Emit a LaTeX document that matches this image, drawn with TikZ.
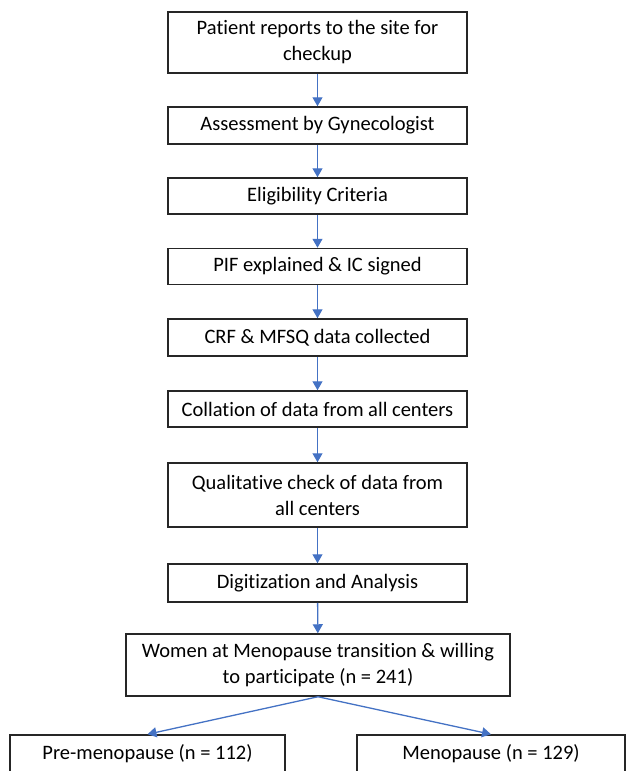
\documentclass[tikz,border=0pt]{standalone}
\usepackage{fontspec}
\setmainfont{Carlito}[Ligatures=NoCommon]
\usetikzlibrary{arrows.meta}
\definecolor{arrowblue}{HTML}{4472C4}
\definecolor{boxline}{HTML}{262626}
\begin{document}
\begin{tikzpicture}[x=1pt,y=-1pt,
  box/.style={draw=boxline, line width=1.5pt, align=center, inner sep=0pt,
    font=\fontsize{20.5}{26}\selectfont},
  arr/.style={draw=arrowblue, line width=1.3pt, -{Triangle[length=9pt,width=10pt]}}]
\useasboundingbox (0,0) rectangle (629,771);
\node[box, minimum width=299pt, minimum height=61pt] (b1) at (317.5,42.5) {Patient reports to the site for\\checkup};
\node[box, minimum width=299pt, minimum height=37pt] (b2) at (317.5,125.5) {Assessment by Gynecologist};
\node[box, minimum width=299pt, minimum height=36pt] (b3) at (317.5,196) {Eligibility Criteria};
\node[box, minimum width=299pt, minimum height=36pt] (b4) at (317.5,266.5) {PIF explained \& IC signed};
\node[box, minimum width=299pt, minimum height=37pt] (b5) at (317.5,337.5) {CRF \& MFSQ data collected};
\node[box, minimum width=299pt, minimum height=36pt] (b6) at (317.5,409) {Collation of data from all centers};
\node[box, minimum width=299pt, minimum height=64pt] (b7) at (317.5,495) {Qualitative check of data from\\all centers};
\node[box, minimum width=299pt, minimum height=38pt] (b8) at (317.5,583) {Digitization and Analysis};
\node[box, minimum width=384pt, minimum height=62pt] (b9) at (318,665) {Women at Menopause transition \& willing\\to participate (n = 241)};
\node[box, minimum width=275pt, minimum height=37pt] (pre) at (147.5,753.5) {Pre-menopause (n = 112)};
\node[box, minimum width=268pt, minimum height=37pt] (meno) at (491,753.5) {Menopause (n = 129)};
\draw[arr] (b1) -- (b2);
\draw[arr] (b2) -- (b3);
\draw[arr] (b3) -- (b4);
\draw[arr] (b4) -- (b5);
\draw[arr] (b5) -- (b6);
\draw[arr] (b6) -- (b7);
\draw[arr] (b7) -- (b8);
\draw[arr] (b8) -- (b9);
\draw[arr] (b9.south) -- (pre.north);
\draw[arr] (b9.south) -- (meno.north);
\end{tikzpicture}
\end{document}
